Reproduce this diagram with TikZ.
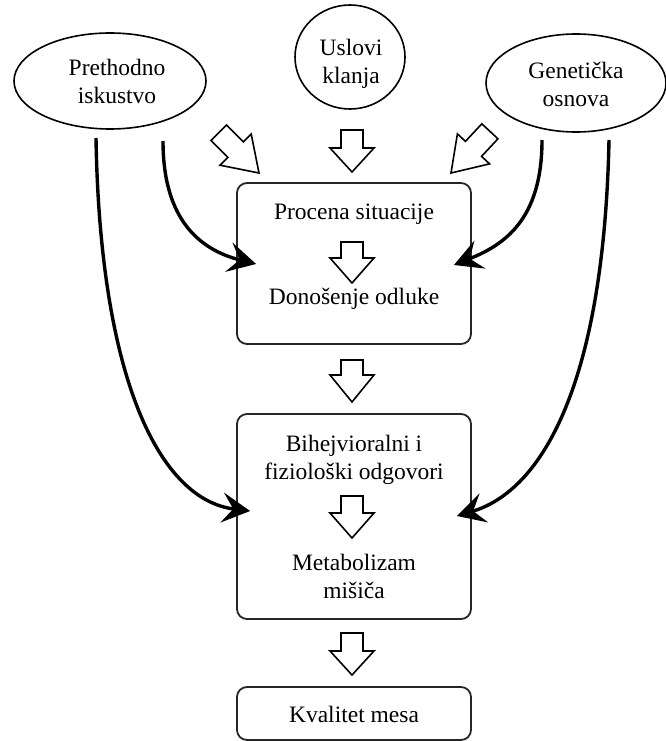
\documentclass[tikz,border=0pt]{standalone}
\usepackage{fontspec}
\setmainfont{Liberation Serif}
\usetikzlibrary{arrows.meta,shapes.geometric}
\tikzset{
  x=1pt, y=-1pt,
  oval/.style={draw=black, line width=1.6pt, ellipse, inner sep=0pt},
  stagebox/.style={draw=black!85, line width=1.8pt, rounded corners=10pt, inner sep=0pt},
  lbl/.style={font=\fontsize{23.5}{28}\selectfont, align=center, inner sep=0pt},
  flow/.style={line width=3.4pt, -{Stealth[length=28pt,width=30pt,inset=11pt]}},
  pics/harrow/.style n args={2}{code={
    \draw[line width=1.6pt, fill=white, line join=miter]
      (0,0) -- (-22,-#2) -- (-11,-#2) -- (-11,-#2-#1) -- (11,-#2-#1) -- (11,-#2) -- (22,-#2) -- cycle;
  }}
}
\begin{document}
\begin{tikzpicture}
\useasboundingbox (0,0) rectangle (665,741);
% ellipses
\node[oval, minimum width=192, minimum height=96] (prev) at (110,81) {};
\node[lbl] (prevt) at (117,81) {Prethodno\\iskustvo};
\node[oval, minimum width=110, minimum height=104] (usl) at (350,57) {};
\node[lbl] (uslt) at (351,64) {Uslovi\\klanja};
\node[oval, minimum width=180, minimum height=98] (gen) at (576,83) {};
\node[lbl] (gent) at (576,84) {Genetička\\osnova};
% boxes
\node[stagebox, minimum width=234, minimum height=161] (b1) at (354,263.5) {};
\node[stagebox, minimum width=234, minimum height=205] (b2) at (354,516.5) {};
\node[stagebox, minimum width=234, minimum height=53] (b3) at (354,713.5) {};
% texts
\node[lbl] (t1) at (354,214) {Procena situacije};
\node[lbl] (t2) at (354,299) {Donošenje odluke};
\node[lbl] (t3) at (354,460) {Bihejvioralni i\\fiziološki odgovori};
\node[lbl] (t4) at (354,576) {Metabolizam\\mišiča};
\node[lbl] (t5) at (354,714) {Kvalitet mesa};
% hollow arrows
\pic[rotate=45] at (259,173) {harrow={24}{33}};
\pic at (352,172) {harrow={18}{24}};
\pic[rotate=-43] at (451,173) {harrow={24}{33}};
\pic at (352,283) {harrow={16}{25}};
\pic at (352,402) {harrow={15}{27}};
\pic at (352,538) {harrow={17}{25}};
\pic at (352,675) {harrow={18}{24}};
% curved arrows
\coordinate (s1) at (96,138);
\coordinate (s2) at (163,141);
\coordinate (s3) at (542,140);
\coordinate (s4) at (609,140);
\draw[flow] (s1) .. controls (100,380) and (160,500) .. ([xshift=14pt,yshift=5.5pt]b2.west);
\draw[flow] (s2) .. controls (163,220) and (200,250) .. ([xshift=20pt,yshift=-0.5pt]b1.west);
\draw[flow] (s3) .. controls (542,220) and (504,245) .. ([xshift=-18pt,yshift=-1.5pt]b1.east);
\draw[flow] (s4) .. controls (604,380) and (544,490) .. ([xshift=-15pt,yshift=0.5pt]b2.east);
\end{tikzpicture}
\end{document}
